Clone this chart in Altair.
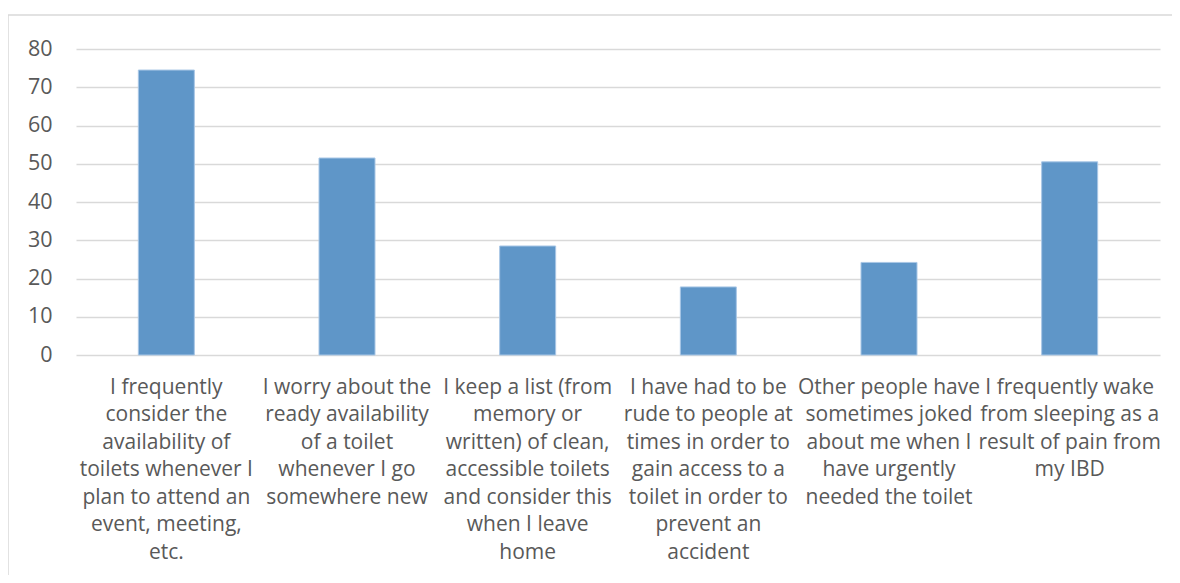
import altair as alt
import pandas as pd

labels = [
    "I frequently|consider the|availability of|toilets whenever I|plan to attend an|event, meeting,|etc.",
    "I worry about the|ready availability|of a toilet|whenever I go|somewhere new",
    "I keep a list (from|memory or|written) of clean,|accessible toilets|and consider this|when I leave|home",
    "I have had to be|rude to people at|times in order to|gain access to a|toilet in order to|prevent an|accident",
    "Other people have|sometimes joked|about me when I|have urgently|needed the toilet",
    "I frequently wake|from sleeping as a|result of pain from|my IBD",
]
values = [74.5, 51.5, 28.5, 17.8, 24.2, 50.5]

df = pd.DataFrame({"label": labels, "value": values})

FONT = "Open Sans"
GREY = "#595959"

bars = alt.Chart(df).mark_bar(color="#5F96C8", stroke="#A9C7E6", strokeWidth=1).encode(
    x=alt.X(
        "label:N",
        sort=None,
        title=None,
        scale=alt.Scale(paddingInner=0.69, paddingOuter=0.345),
        axis=alt.Axis(
            labelExpr="split(datum.value, '|')",
            labelAngle=0,
            labelAlign="center",
            labelBaseline="top",
            labelPadding=21,
            labelLimit=0,
            labelLineHeight=27.5,
            labelFontSize=21,
            labelFont=FONT,
            labelColor=GREY,
            ticks=False,
            domain=False,
            grid=False,
        ),
    ),
    y=alt.Y(
        "value:Q",
        title=None,
        scale=alt.Scale(domain=[0, 80], nice=False),
        axis=alt.Axis(
            values=[0, 10, 20, 30, 40, 50, 60, 70, 80],
            labelFontSize=21.5,
            labelFont=FONT,
            labelColor=GREY,
            labelPadding=24,
            ticks=False,
            domain=False,
            grid=True,
            gridColor="#D9D9D9",
            gridWidth=1.5,
        ),
    ),
)

frame_src = pd.DataFrame({"a": [0]})
left_edge = alt.Chart(frame_src).mark_rule(color="#D9D9D9", strokeWidth=1.5).encode(
    x=alt.value(-68), y=alt.value(-34), y2=alt.value(700)
)
top_edge = alt.Chart(frame_src).mark_rule(color="#D9D9D9", strokeWidth=1.5).encode(
    x=alt.value(-68), x2=alt.value(1200), y=alt.value(-34)
)

chart = alt.layer(left_edge, top_edge, bars).properties(
    width=1084,
    height=306,
    autosize=alt.AutoSizeParams(type="none"),
    padding={"left": 68, "top": 41, "right": 12, "bottom": 220},
).configure_view(stroke=None)

chart.save("out.html", embed_options={"renderer": "svg", "actions": False})
